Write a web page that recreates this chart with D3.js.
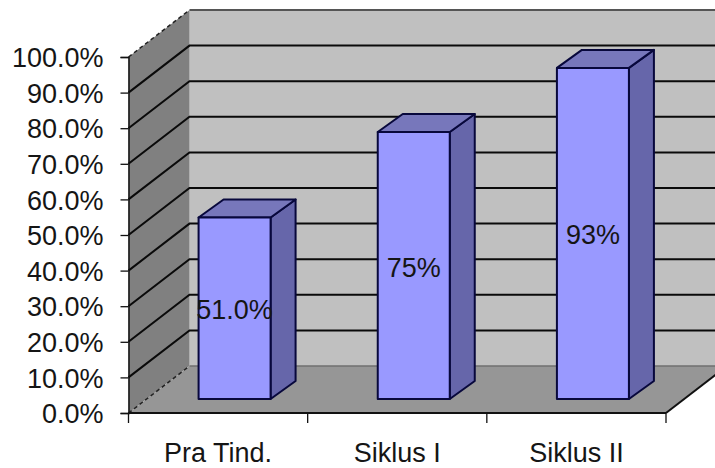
<!DOCTYPE html>
<html>
<head>
<meta charset="utf-8">
<script src="https://cdn.jsdelivr.net/npm/d3@7"></script>
<style>
html,body{margin:0;padding:0;background:#fff}
svg{display:block}
text{font-family:"Liberation Sans",Arial,sans-serif;fill:#151515}
</style>
</head>
<body>
<svg id="chart" width="715" height="468"></svg>
<script>
const categories = ["Pra Tind.", "Siklus I", "Siklus II"];
const seriesValues = [51, 75, 93];
const valueLabels = ["51.0%", "75%", "93%"];
const tickValues = [0, 10, 20, 30, 40, 50, 60, 70, 80, 90, 100];

const svg = d3.select("#chart");

// Front plane of the 3-D box and the shift towards the back wall
const left = 128.5, right = 666, baseY = 413, topY = 57;
const depthX = 61, depthY = -47;
const fontSize = 27;

const x = d3.scaleBand().domain(categories).range([left, right]);
const y = d3.scaleLinear().domain([0, 100]).range([baseY, topY]);

const poly = (pts, fill) => svg.append("polygon")
  .attr("points", pts.map(p => p.join(",")).join(" "))
  .attr("fill", fill);

// Back wall, side wall, floor
poly([[left + depthX, topY + depthY], [right + depthX, topY + depthY], [right + depthX, baseY + depthY], [left + depthX, baseY + depthY]], "#c0c0c0");
poly([[left, topY], [left + depthX, topY + depthY], [left + depthX, baseY + depthY], [left, baseY]], "#808080");
poly([[left, baseY], [left + depthX, baseY + depthY], [right + depthX, baseY + depthY], [right, baseY]], "#969696");

// Gridlines wrap from the side wall onto the back wall
const inner = tickValues.filter(t => t > 0);
svg.append("g").selectAll("path").data(inner).join("path")
  .attr("fill", "none")
  .attr("stroke", d => d === 100 ? "#555" : "#0a0a0a")
  .attr("stroke-width", 2)
  .attr("d", d => d === 100
    ? `M${left + depthX},${y(d) + depthY}H${right + depthX}`
    : `M${left},${y(d)}L${left + depthX},${y(d) + depthY}H${right + depthX}`);

// Dashed edges of the box at the top and at the floor
svg.append("g").selectAll("line").data([0, 100]).join("line")
  .attr("x1", left).attr("y1", d => y(d))
  .attr("x2", left + depthX).attr("y2", d => y(d) + depthY)
  .attr("stroke", "#222").attr("stroke-width", 1.5).attr("stroke-dasharray", "4 3");

// Back floor edge
svg.append("line")
  .attr("x1", left + depthX).attr("y1", baseY + depthY)
  .attr("x2", right + depthX).attr("y2", baseY + depthY)
  .attr("stroke", "#6f6f6f").attr("stroke-width", 1.5);

// Bars sit part-way into the box
const barWidth = 72, barOffset = 16.5, barDropY = 14, barDepthX = 25, barDepthY = -18;
const bars = svg.append("g").selectAll("g").data(categories).join("g");
const frame = { stroke: "#08083c", "stroke-width": 2, "stroke-linejoin": "round" };
const styled = sel => { Object.entries(frame).forEach(([k, v]) => sel.attr(k, v)); return sel; };
const barLeft = c => x(c) + x.bandwidth() / 2 + barOffset - barWidth / 2;
const barTop = (c, i) => y(seriesValues[i]) - barDropY;
const barBottom = baseY - barDropY;

styled(bars.append("polygon")).attr("fill", "#6666aa")
  .attr("points", (c, i) => {
    const r = barLeft(c) + barWidth, t = barTop(c, i);
    return [[r, t], [r + barDepthX, t + barDepthY], [r + barDepthX, barBottom + barDepthY], [r, barBottom]].join(" ");
  });
styled(bars.append("polygon")).attr("fill", "#7777bb")
  .attr("points", (c, i) => {
    const l = barLeft(c), t = barTop(c, i);
    return [[l, t], [l + barDepthX, t + barDepthY], [l + barWidth + barDepthX, t + barDepthY], [l + barWidth, t]].join(" ");
  });
styled(bars.append("rect")).attr("fill", "#9999ff")
  .attr("x", barLeft).attr("width", barWidth)
  .attr("y", barTop).attr("height", (c, i) => barBottom - barTop(c, i));

bars.append("text")
  .attr("x", c => barLeft(c) + barWidth / 2)
  .attr("y", (c, i) => (barTop(c, i) + barBottom) / 2 + 11)
  .attr("text-anchor", "middle").attr("font-size", fontSize)
  .text((c, i) => valueLabels[i]);

// Value axis
const yAxis = svg.append("g").attr("transform", `translate(${left},0)`)
  .call(d3.axisLeft(y).tickValues(tickValues).tickSize(8).tickPadding(17).tickFormat(d => d3.format(".1f")(d) + "%"));
yAxis.attr("font-family", null);
yAxis.selectAll("text").attr("font-size", fontSize).attr("dy", "0.36em");
yAxis.select(".domain").attr("stroke", "#111").attr("stroke-width", 1.5);
yAxis.selectAll("line").attr("stroke", "#111").attr("stroke-width", 1.3);

// Category axis: ticks fall on band edges, labels on band centres
svg.append("line").attr("x1", left).attr("x2", right).attr("y1", baseY).attr("y2", baseY)
  .attr("stroke", "#111").attr("stroke-width", 2);
svg.append("line").attr("x1", right).attr("y1", baseY).attr("x2", right + depthX).attr("y2", baseY + depthY)
  .attr("stroke", "#111").attr("stroke-width", 2);
svg.append("g").selectAll("line").data(d3.range(categories.length + 1)).join("line")
  .attr("x1", i => left + i * x.bandwidth()).attr("x2", i => left + i * x.bandwidth())
  .attr("y1", baseY).attr("y2", baseY + 10)
  .attr("stroke", "#111").attr("stroke-width", 1.3);
svg.append("g").selectAll("text").data(categories).join("text")
  .attr("x", c => x(c) + x.bandwidth() / 2)
  .attr("y", 462)
  .attr("text-anchor", "middle").attr("font-size", fontSize)
  .text(c => c);
</script>
</body>
</html>
